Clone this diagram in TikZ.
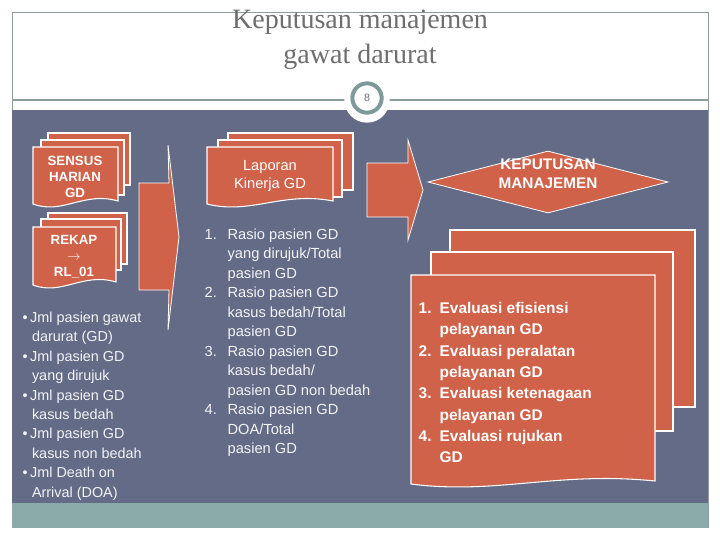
\documentclass[tikz,border=0pt]{standalone}
\usepackage{fontspec}
\setmainfont{Liberation Sans}
\newfontfamily\titlefont{Liberation Serif}
\usetikzlibrary{shapes.geometric}
\definecolor{slate}{HTML}{646B86}
\definecolor{brick}{HTML}{CF6249}
\definecolor{teal2}{HTML}{8AABAA}
\definecolor{frame}{HTML}{8C9C9C}
\definecolor{ttl}{HTML}{6E6E6E}
\definecolor{ring}{HTML}{7E9A98}
\newcommand{\docsh}[4]{%
  \pgfmathsetmacro{\dw}{#3-#1}%
  \filldraw[docst] (#1,#2) -- (#3,#2) -- (#3,#4-6)
    .. controls ({#1+0.6*\dw},{#4-16}) and ({#1+0.35*\dw},{#4+8}) .. (#1,#4-3) -- cycle;}
\newcommand{\sheet}[4]{\filldraw[docst] (#1,#2) rectangle (#3,#4);}
\begin{document}
\begin{tikzpicture}[x=0.75pt,y=-0.75pt,
  docst/.style={fill=brick,draw=white,line width=0.8pt},
  wtxt/.style={text=white,font=\bfseries\fontsize{10}{12}\selectfont,align=center},
  ltxt/.style={text=white!92!slate,font=\fontsize{10.8}{14.6}\selectfont,align=left,anchor=north west},
  arrowst/.style={fill=brick,draw=white,line width=0.6pt}]
\useasboundingbox (0,0) rectangle (720,540);
\fill[white] (0,0) rectangle (720,540);
% frame
\draw[frame,line width=0.6pt] (12,12) -- (12,528) (708,12) -- (708,528) (12,12) -- (708,12);
\draw[frame,line width=0.8pt] (12,100) -- (708,100);
\fill[slate] (12,110) rectangle (708,503);
\fill[teal2] (12,503) rectangle (708,528);
\node[circle,fill=white,minimum size=34pt,inner sep=0] (ringb) at (367,100) {};
\node[circle,draw=ring,line width=3pt,fill=white,minimum size=22pt,inner sep=0,text=ttl,font=\fontsize{8}{9}\selectfont] (pg) at (367,98) {8};
\node[text=ttl,font=\titlefont\fontsize{21}{26}\selectfont,align=center] (title) at (360,40) {Keputusan manajemen\\gawat darurat};
% SENSUS stack
\sheet{48}{133}{130}{185}
\sheet{41}{140}{124}{195}
\docsh{33}{147}{118}{207}
\node[wtxt] (sensus) at (75,177) {SENSUS\\HARIAN\\GD};
% REKAP stack
\sheet{48}{213}{127}{264}
\sheet{41}{219}{121}{270}
\docsh{33}{227}{116}{288}
\node[wtxt] (rekap) at (74,257) {REKAP\\$\rightarrow$\\RL\_01};
% left list
\node[ltxt] (llist) at (18,307) {\textbullet\,Jml pasien gawat\\\hspace*{7pt}darurat (GD)\\\textbullet\,Jml pasien GD\\\hspace*{7pt}yang dirujuk\\\textbullet\,Jml pasien GD\\\hspace*{7pt}kasus bedah\\\textbullet\,Jml pasien GD\\\hspace*{7pt}kasus non bedah\\\textbullet\,Jml Death on\\\hspace*{7pt}Arrival (DOA)};
% arrow 1
\filldraw[arrowst] (139,183) -- (169,183) -- (168,145) -- (179,237) -- (168,330) -- (169,290) -- (139,290) -- cycle;
% Laporan stack
\sheet{228}{133}{353}{190}
\sheet{218}{140}{342}{197}
\docsh{207}{147}{333}{207}
\node[wtxt,font=\fontsize{11}{14}\selectfont] (lap) at (270,176) {Laporan\\Kinerja GD};
% middle list
\node[ltxt,font=\fontsize{11}{14.6}\selectfont] (mlist) at (200,221) {%
\begin{tabular}{@{}l@{\hspace{8pt}}l@{}}
1. & Rasio pasien GD\\ & yang dirujuk/Total\\ & pasien GD\\
2. & Rasio pasien GD\\ & kasus bedah/Total\\ & pasien GD\\
3. & Rasio pasien GD\\ & kasus bedah/\\ & pasien GD non bedah\\
4. & Rasio pasien GD\\ & DOA/Total\\ & pasien GD
\end{tabular}};
% arrow 2
\filldraw[arrowst] (367,163) -- (408,163) -- (408,140) -- (423,190) -- (408,240) -- (408,217) -- (367,217) -- cycle;
% diamond
\node[diamond,fill=brick,draw=white,line width=0.6pt,minimum width=240pt*0.75,minimum height=62pt*0.75,inner sep=0,aspect=3.9] (kep) at (548,182) {};
\node[wtxt,font=\bfseries\fontsize{11.5}{14}\selectfont] (kept) at (548,174) {KEPUTUSAN\\MANAJEMEN};
% big stack
\sheet{450}{230}{695}{407}
\sheet{431}{252}{673}{431}
\docsh{411}{275}{655}{487}
\node[ltxt,text=white,font=\bfseries\fontsize{11.6}{16}\selectfont] (rlist) at (414,294) {%
\begin{tabular}{@{}l@{\hspace{6pt}}l@{}}
1. & Evaluasi efisiensi\\ & pelayanan GD\\
2. & Evaluasi peralatan\\ & pelayanan GD\\
3. & Evaluasi ketenagaan\\ & pelayanan GD\\
4. & Evaluasi rujukan\\ & GD
\end{tabular}};
\end{tikzpicture}
\end{document}
